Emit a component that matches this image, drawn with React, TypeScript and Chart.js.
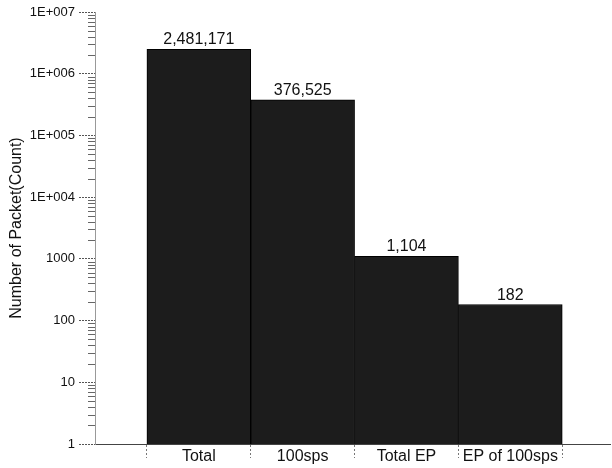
import React, { useEffect, useRef } from "react";
import { Chart, registerables } from "chart.js";

Chart.register(...registerables);

const categories = ["Total", "100sps", "Total EP", "EP of 100sps"];
const packetCounts = [2481171, 376525, 1104, 182];
const yTickValues = [1, 10, 100, 1000, 1e4, 1e5, 1e6, 1e7];
const yTickLabels = ["1", "10", "100", "1000", "1E+004", "1E+005", "1E+006", "1E+007"];

const FONT = "'Liberation Sans', Arial, sans-serif";

const minorTicksPlugin = {
  id: "minorTicks",
  afterDraw(chart: any) {
    const y = chart.scales.y;
    const ctx = chart.ctx;
    const x0 = chart.chartArea.left;
    ctx.save();
    ctx.strokeStyle = "#666";
    ctx.lineWidth = 1;
    for (let d = 0; d < 7; d++) {
      for (let m = 2; m <= 9; m++) {
        const py = Math.round(y.getPixelForValue(m * Math.pow(10, d))) + 0.5;
        ctx.beginPath();
        ctx.moveTo(x0 - 7, py);
        ctx.lineTo(x0, py);
        ctx.stroke();
      }
    }
    ctx.restore();
  },
};

const valueLabelsPlugin = {
  id: "valueLabels",
  afterDatasetsDraw(chart: any) {
    const ctx = chart.ctx;
    const meta = chart.getDatasetMeta(0);
    ctx.save();
    ctx.font = `16px ${FONT}`;
    ctx.fillStyle = "#111";
    ctx.textAlign = "center";
    ctx.textBaseline = "alphabetic";
    meta.data.forEach((bar: any, i: number) => {
      ctx.fillText(packetCounts[i].toLocaleString("en-US"), bar.x, bar.y - 5);
    });
    ctx.restore();
  },
};

export default function App() {
  const ref = useRef<HTMLCanvasElement>(null);
  useEffect(() => {
    if (!ref.current) return;
    const chart = new Chart(ref.current, {
      type: "bar",
      data: {
        datasets: [
          {
            data: packetCounts.map((v, i) => ({ x: i + 1, y: v })),
            backgroundColor: "#1c1c1c",
            borderColor: "#000",
            borderWidth: 1,
            barPercentage: 1,
            categoryPercentage: 1,
          },
        ],
      },
      options: {
        responsive: false,
        animation: false,
        layout: { padding: { top: 12, right: 2, left: 0, bottom: 0 } },
        plugins: { legend: { display: false }, tooltip: { enabled: false } },
        scales: {
          x: {
            type: "linear",
            min: 0,
            max: 4.96,
            offset: false,
            afterBuildTicks(scale: any) {
              scale.ticks = categories.map((_, i) => ({ value: i + 1 }));
            },
            afterFit(scale: any) {
              scale.height = 24;
            },
            grid: {
              offset: true,
              drawOnChartArea: false,
              tickLength: 14,
              tickColor: "#777",
              tickBorderDash: [2, 2],
            },
            border: { color: "#444", width: 1 },
            ticks: {
              autoSkip: false,
              maxRotation: 0,
              padding: -11,
              color: "#111",
              font: { family: FONT, size: 16 },
              callback: (v: any) => categories[Number(v) - 1] ?? "",
            },
          },
          y: {
            type: "logarithmic",
            min: 1,
            max: 1e7,
            afterBuildTicks(scale: any) {
              scale.ticks = yTickValues.map((v) => ({ value: v }));
            },
            afterFit(scale: any) {
              scale.width = 95;
            },
            grid: {
              drawOnChartArea: false,
              tickLength: 16,
              tickColor: "#555",
              tickBorderDash: [2, 1],
            },
            border: { color: "#999", width: 1 },
            ticks: {
              padding: 4,
              color: "#111",
              font: { family: FONT, size: 13 },
              callback: (v: any) => {
                const i = yTickValues.indexOf(Number(v));
                return i >= 0 ? yTickLabels[i] : "";
              },
            },
            title: {
              display: true,
              text: "Number of Packet(Count)",
              color: "#111",
              font: { family: FONT, size: 16 },
              padding: { top: 7, bottom: 0 },
            },
          },
        },
      },
      plugins: [minorTicksPlugin, valueLabelsPlugin],
    } as any);
    return () => chart.destroy();
  }, []);
  return (
    <div style={{ position: "absolute", left: 0, top: 0, width: 612, height: 468, background: "#fff" }}>
      <canvas ref={ref} width={612} height={468} />
    </div>
  );
}
